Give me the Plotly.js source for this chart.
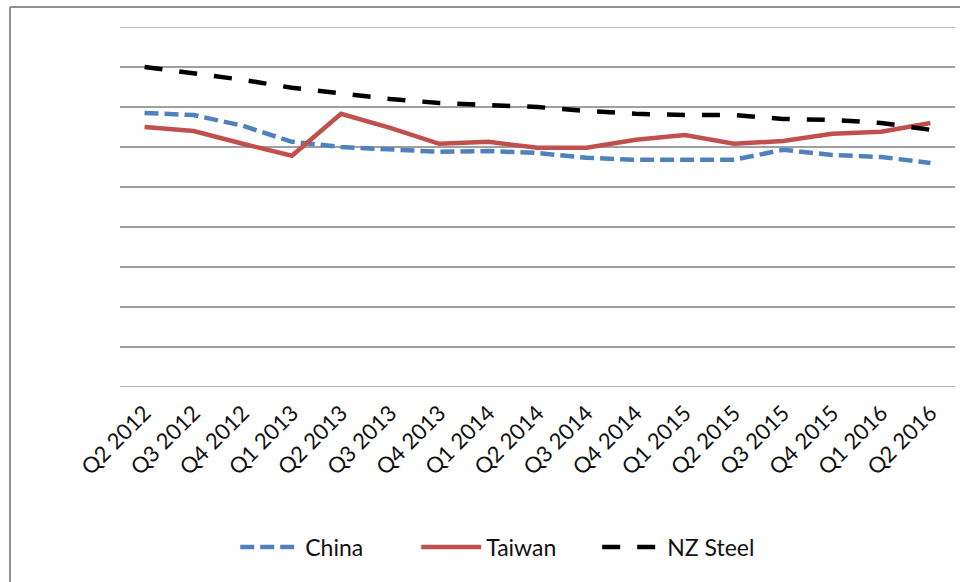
<!DOCTYPE html>
<html>
<head>
<meta charset="utf-8">
<script src="https://cdn.plot.ly/plotly-3.0.1.min.js"></script>
<style>
  html, body { margin: 0; padding: 0; background: #fff; }
  #chart { width: 960px; height: 582px; }
</style>
</head>
<body>
<div id="chart"></div>
<script>
// Quarterly price index by source
const quarters = [
  'Q2 2012', 'Q3 2012', 'Q4 2012', 'Q1 2013', 'Q2 2013', 'Q3 2013', 'Q4 2013',
  'Q1 2014', 'Q2 2014', 'Q3 2014', 'Q4 2014', 'Q1 2015', 'Q2 2015', 'Q3 2015',
  'Q4 2015', 'Q1 2016', 'Q2 2016'
];
const china   = [685, 680, 653, 613, 600, 593, 588, 590, 585, 573, 568, 568, 568, 593, 580, 575, 560];
const taiwan  = [650, 640, 608, 578, 683, 648, 608, 613, 598, 598, 618, 630, 608, 615, 633, 638, 660];
const nzSteel = [800, 783, 768, 748, 733, 720, 710, 705, 700, 690, 683, 680, 680, 670, 668, 660, 643];
const yMin = 0, yMax = 900;

const FONT = 'Lato, "Open Sans", sans-serif';
const gridColor = '#a0a0a0';
const frameColor = '#8f8f8f';
const textColor = '#111111';

const traces = [
  {
    x: quarters, y: china, name: 'China', type: 'scatter', mode: 'lines',
    line: { color: '#4F81BD', width: 4.5, dash: '14px,6px' }
  },
  {
    x: quarters, y: taiwan, name: 'Taiwan', type: 'scatter', mode: 'lines',
    line: { color: '#C0504D', width: 4.5 }
  },
  {
    x: quarters, y: nzSteel, name: 'NZ Steel', type: 'scatter', mode: 'lines',
    line: { color: '#000000', width: 4.5, dash: '18px,17px' }
  }
];

// gridlines sitting on the plot edges are drawn as shapes
const edgeGrid = [yMin, yMax].map(v => ({
  type: 'line', layer: 'below', xref: 'paper', yref: 'y',
  x0: 0, x1: 1, y0: v, y1: v,
  line: { color: gridColor, width: 1.6 }
}));

const layout = {
  width: 960,
  height: 582,
  margin: { l: 120, r: 5, t: 27, b: 195 },
  paper_bgcolor: '#ffffff',
  plot_bgcolor: '#ffffff',
  showlegend: true,
  font: { family: FONT, color: textColor },
  xaxis: {
    type: 'category',
    range: [-0.5, 16.5],
    tickangle: -45,
    tickfont: { family: FONT, size: 22, color: textColor },
    ticklabelstandoff: 8,
    showgrid: false,
    zeroline: false,
    showline: false,
    ticks: ''
  },
  yaxis: {
    range: [yMin, yMax],
    dtick: 100,
    showticklabels: false,
    showgrid: true,
    gridcolor: gridColor,
    gridwidth: 1.6,
    zeroline: false,
    showline: false,
    ticks: ''
  },
  legend: {
    orientation: 'h',
    xref: 'container', yref: 'container',
    x: 0.245, xanchor: 'left',
    y: 0.06, yanchor: 'middle',
    font: { family: FONT, size: 23, color: textColor },
    itemwidth: 60,
    entrywidth: 106
  },
  shapes: edgeGrid.concat([
    // outer chart frame: top and left edges
    { type: 'line', xref: 'paper', yref: 'paper', x0: -0.1317, x1: 1.2, y0: 1.0556, y1: 1.0556,
      line: { color: frameColor, width: 2 } },
    { type: 'line', xref: 'paper', yref: 'paper', x0: -0.1317, x1: -0.1317, y0: 1.0556, y1: -0.7,
      line: { color: frameColor, width: 2 } }
  ])
};

Plotly.newPlot('chart', traces, layout, { displayModeBar: false, staticPlot: true });
</script>
</body>
</html>
